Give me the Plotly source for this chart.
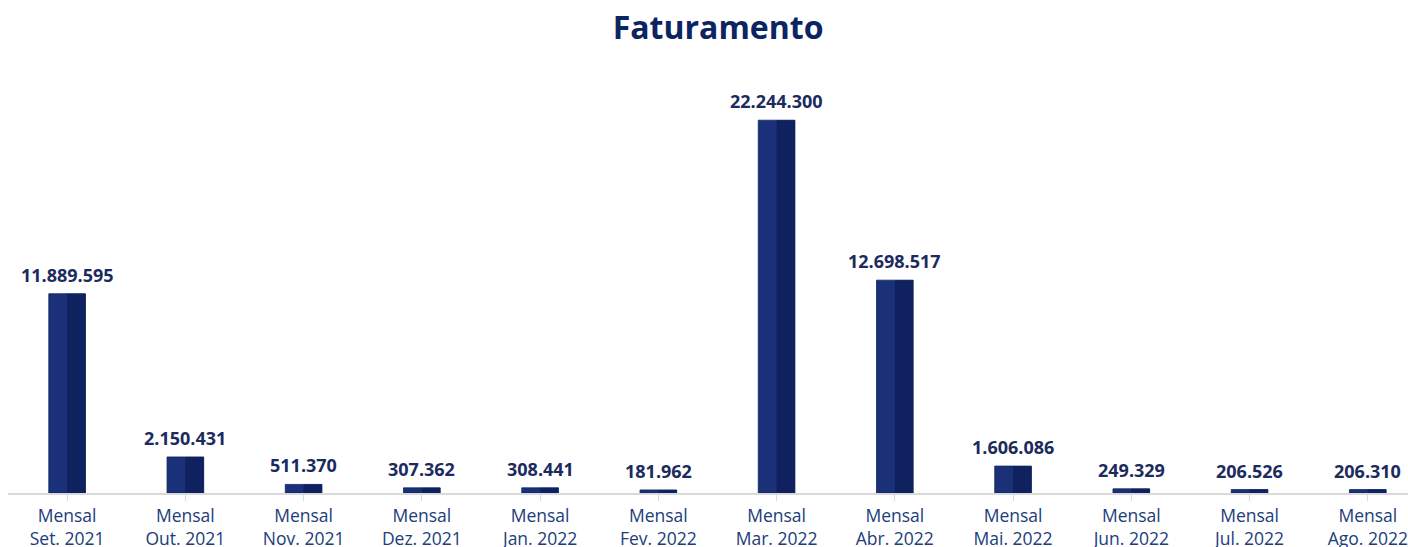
import plotly.graph_objects as go

categories = ["Mensal<br>Set. 2021", "Mensal<br>Out. 2021", "Mensal<br>Nov. 2021", "Mensal<br>Dez. 2021",
              "Mensal<br>Jan. 2022", "Mensal<br>Fev. 2022", "Mensal<br>Mar. 2022", "Mensal<br>Abr. 2022",
              "Mensal<br>Mai. 2022", "Mensal<br>Jun. 2022", "Mensal<br>Jul. 2022", "Mensal<br>Ago. 2022"]
values = [11889595, 2150431, 511370, 307362, 308441, 181962, 22244300, 12698517, 1606086, 249329, 206526, 206310]
labels = ["11.889.595", "2.150.431", "511.370", "307.362", "308.441", "181.962", "22.244.300",
          "12.698.517", "1.606.086", "249.329", "206.526", "206.310"]

idx = list(range(len(categories)))
BW = 0.31

fig = go.Figure()
fig.add_trace(go.Bar(x=idx, y=values, width=BW, marker=dict(color="#1a3079", line=dict(color="#12245f", width=0.8)),
                     hoverinfo="skip"))
fig.add_trace(go.Bar(x=idx, y=values, width=BW / 2, offset=0, marker=dict(color="#0f215f", line=dict(width=0)),
                     hoverinfo="skip"))

for i, v, t in zip(idx, values, labels):
    fig.add_annotation(x=i, y=v, text="<b>%s</b>" % t, showarrow=False, yanchor="bottom", yshift=5,
                       font=dict(family="Open Sans", size=18, color="#1c2b5e"))

fig.update_layout(
    width=1408, height=547,
    margin=dict(l=8, r=0, t=74, b=54),
    paper_bgcolor="white", plot_bgcolor="white",
    barmode="overlay", showlegend=False,
    title=dict(text="<b>Faturamento</b>", x=0.51, xanchor="center", y=0.95, yanchor="middle",
               font=dict(family="Open Sans", size=32, color="#0c2461")),
    xaxis=dict(tickmode="array", tickvals=idx, ticktext=categories, range=[-0.5, 11.34],
               showline=True, linecolor="#d9d9d9", linewidth=1.5, ticks="outside", tickson="boundaries",
               ticklen=6, tickcolor="#d9d9d9", showgrid=False, zeroline=False, automargin=False,
               tickfont=dict(family="Open Sans", size=17.5, color="#203d7a")),
    yaxis=dict(range=[0, 25e6], visible=False, showgrid=False, zeroline=False, automargin=False),
)

fig.write_html("out.html")
